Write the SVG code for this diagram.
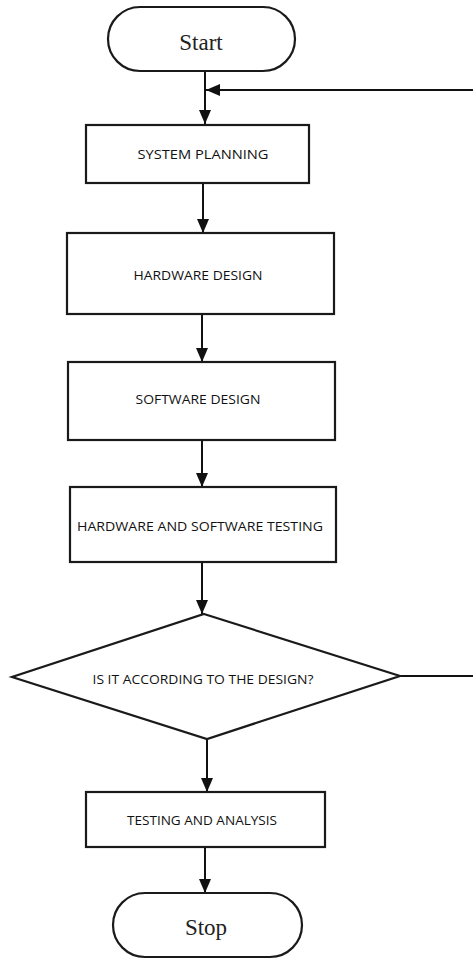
<svg xmlns="http://www.w3.org/2000/svg" width="473" height="959" viewBox="0 0 473 959">
  <style>
    .shape { fill: #ffffff; stroke: #1a1a1a; stroke-width: 2.2; }
    .edge { fill: none; stroke: #111111; stroke-width: 2; }
    .label { font-family: "Open Sans", "Liberation Sans", sans-serif; font-size: 13.5px; fill: #111111; text-anchor: middle; }
    .term { font-family: "Liberation Serif", "DejaVu Serif", serif; font-size: 23px; fill: #222222; text-anchor: middle; }
  </style>
  <defs>
    <marker id="arrow" viewBox="0 0 14 14" refX="14" refY="7" markerWidth="14" markerHeight="14" markerUnits="userSpaceOnUse" orient="auto">
      <path d="M0,1 L14,7 L0,13 Z" fill="#111111"/>
    </marker>
  </defs>
  <rect width="473" height="959" fill="#ffffff"/>

  <g id="connectors">
    <path class="edge" d="M205 71 V124" marker-end="url(#arrow)"/>
    <path class="edge" d="M400 676 H480 V90 H206" marker-end="url(#arrow)"/>
    <path class="edge" d="M203 183 V233" marker-end="url(#arrow)"/>
    <path class="edge" d="M202 314 V362" marker-end="url(#arrow)"/>
    <path class="edge" d="M202 440 V487" marker-end="url(#arrow)"/>
    <path class="edge" d="M202 562 V614" marker-end="url(#arrow)"/>
    <path class="edge" d="M207 739 V792" marker-end="url(#arrow)"/>
    <path class="edge" d="M205 847 V893" marker-end="url(#arrow)"/>
  </g>

  <g id="start">
    <rect class="shape" x="108" y="7" width="187" height="64" rx="32" ry="32"/>
    <text class="term" x="201" y="50">Start</text>
  </g>

  <g id="system-planning">
    <rect class="shape" x="86" y="125" width="223" height="58"/>
    <text class="label" x="203" y="159" textLength="131" lengthAdjust="spacingAndGlyphs">SYSTEM PLANNING</text>
  </g>

  <g id="hardware-design">
    <rect class="shape" x="67" y="233" width="267" height="81"/>
    <text class="label" x="198" y="280" textLength="129" lengthAdjust="spacingAndGlyphs">HARDWARE DESIGN</text>
  </g>

  <g id="software-design">
    <rect class="shape" x="68" y="362" width="267" height="78"/>
    <text class="label" x="198" y="404" textLength="125" lengthAdjust="spacingAndGlyphs">SOFTWARE DESIGN</text>
  </g>

  <g id="testing">
    <rect class="shape" x="70" y="487" width="266" height="75"/>
    <text class="label" x="200" y="531" textLength="246" lengthAdjust="spacingAndGlyphs">HARDWARE AND SOFTWARE TESTING</text>
  </g>

  <g id="decision">
    <polygon class="shape" points="204,614 400,676 207,739 12,677"/>
    <text class="label" x="203" y="684" textLength="221" lengthAdjust="spacingAndGlyphs">IS IT ACCORDING TO THE DESIGN?</text>
  </g>

  <g id="analysis">
    <rect class="shape" x="86" y="792" width="239" height="55"/>
    <text class="label" x="202" y="825" textLength="150" lengthAdjust="spacingAndGlyphs">TESTING AND ANALYSIS</text>
  </g>

  <g id="stop">
    <rect class="shape" x="113" y="893" width="189" height="64" rx="32" ry="32"/>
    <text class="term" x="206" y="935">Stop</text>
  </g>
</svg>
